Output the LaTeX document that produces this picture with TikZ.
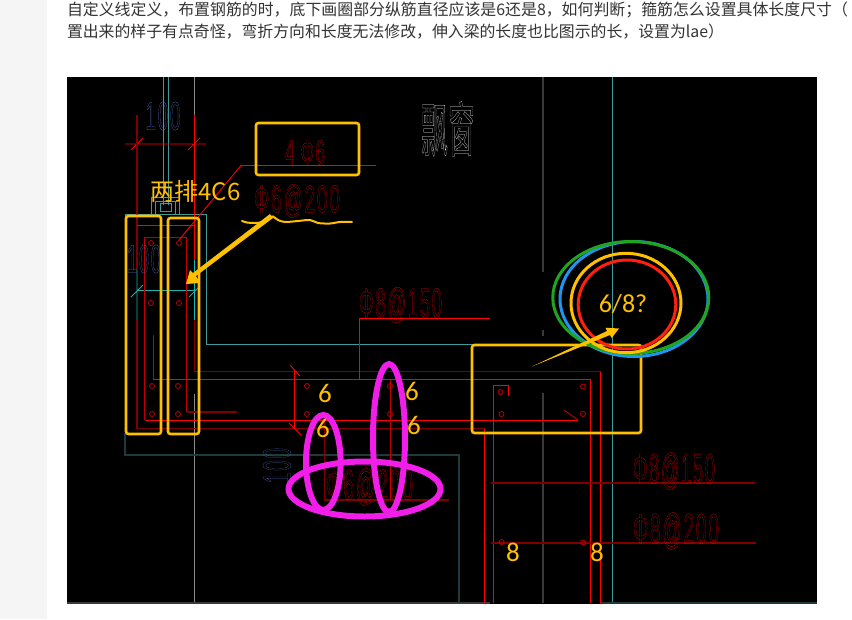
\documentclass[tikz,border=0pt]{standalone}
\usepackage{fontspec}
\usepackage{graphicx}
\setmainfont{Carlito}
\newfontfamily\cjk{Noto Sans CJK SC}
\newfontfamily\cadfont[LetterSpace=9]{Liberation Sans}
\definecolor{anno}{HTML}{FFC000}
\definecolor{mag}{HTML}{F01EE8}
\definecolor{brt}{HTML}{FF0000}
\definecolor{mid}{HTML}{C00000}
\definecolor{drk}{HTML}{800000}
\definecolor{teal1}{HTML}{3F9A9A}
\definecolor{teal2}{HTML}{1F3A3A}
\definecolor{cyan1}{HTML}{15B5B5}
\definecolor{gry}{HTML}{8A8A8A}
\definecolor{gry2}{HTML}{3A3A3A}
\definecolor{bodytext}{HTML}{333333}
\definecolor{ringblue}{HTML}{1E96F0}
\definecolor{ringgreen}{HTML}{1FA51F}
\definecolor{ringred}{HTML}{FF2010}
% outlined CAD lettering: width, height, stroke colour (r g b), text
\newcommand{\cadtxt}[4]{\resizebox{#1pt}{#2pt}{\fontsize{30}{30}\selectfont\cadfont\special{pdf:code 1 Tr 0.2 w #3 RG}#4\special{pdf:code 0 Tr}}}
\newcommand{\cadcjk}[4]{\resizebox{#1pt}{#2pt}{\fontsize{50}{50}\selectfont\cjk\special{pdf:code 1 Tr 0.2 w #3 RG}#4\special{pdf:code 0 Tr}}}
\tikzset{
  x=1pt,y=-1pt,
  lab/.style={inner sep=0pt,outer sep=0pt},
  num/.style={lab,text=anno,font=\fontsize{27}{27}\selectfont},
  ybox/.style={draw=anno,line width=2.6pt,rounded corners=2.5pt},
  rb/.style={brt,line width=0.9pt},
  rm/.style={mid,line width=0.9pt},
  rd/.style={drk,line width=1.1pt},
  tl/.style={teal1,line width=0.9pt},
  dk/.style={teal2,line width=1.1pt},
  dot/.style={draw=mid,line width=0.8pt,circle,minimum size=5pt,inner sep=0pt},
  hoop/.style={draw=mag,line width=6pt},
  ring/.style={line width=3pt},
  para/.style={lab,anchor=west,text=bodytext,font=\cjk\fontsize{16}{16}\selectfont},
}
\begin{document}
\begin{tikzpicture}
\useasboundingbox (0,0) rectangle (852,619);
\fill[white] (0,0) rectangle (852,619);
\fill[black!4] (0,0) rectangle (47,619);
\node[para] (line1) at (67,10) {\resizebox{781pt}{!}{自定义线定义，布置钢筋的时，底下画圈部分纵筋直径应该是6还是8，如何判断；箍筋怎么设置具体长度尺寸（}};
\node[para] (line2) at (67,32) {\resizebox{657pt}{!}{置出来的样子有点奇怪，弯折方向和长度无法修改，伸入梁的长度也比图示的长，设置为lae）}};
\fill[black] (67,77) rectangle (817,604);

% grey and teal axes
\draw[gry,line width=.8pt] (194.5,77) -- (194.5,115);
\draw[gry,line width=.8pt] (194.5,394) -- (194.5,603);
\draw[teal1,line width=.8pt] (163,77) -- (163,205) (168,77) -- (168,205);
\draw[gry2,line width=1.2pt] (543,77) -- (543,272) (543,330) -- (543,336) (543,393) -- (543,603);
\draw[tl] (612.5,77) -- (612.5,603);
\draw[gry2,line width=1.2pt] (67,603) -- (490,603);
\draw[teal2,line width=1.2pt] (600,603) -- (817,603);

% teal outlines, left column
\draw[tl] (125,290) -- (125,214) -- (206.5,214) -- (206.5,344) -- (641,344);
\draw[tl] (151,214) -- (151,197) -- (179,197) -- (179,214);
\draw[tl] (155,214) -- (155,201) -- (175,201) -- (175,214);
\draw[tl] (160,211) -- (160,203) -- (171,203) -- (171,211) -- cycle;
\draw[dk] (125,433) -- (125,455) -- (459,455) -- (459,603);
\draw[cyan1,line width=.8pt] (137,290.5) -- (195,290.5) (131,297) -- (143,285) (189,297) -- (199,287) (194.5,260) -- (194.5,320) (137,270) -- (137,320);

% red, left column and beam
\draw[rb] (125,144) -- (206,144) (131,150) -- (143,138) (188,150) -- (200,138);
\draw[rb] (194.5,115) -- (194.5,260);
\draw[rd] (137,115) -- (137,270) (137,320) -- (137,428.5) -- (484.5,428.5);
\draw[rb] (137,225) -- (194.5,225);
\draw[rm] (186.5,237) -- (144.5,237) -- (144.5,420);
\draw[brt,line width=1pt] (144.5,420) -- (578,420);
\draw[rm] (186.5,237) -- (186.5,412);
\draw[rd] (186.5,412) -- (237,412);
\draw[rm] (153,335) -- (153,379);
\draw[brt,line width=1pt] (153,379.5) -- (590.5,379.5) -- (590.5,603);
\draw[rd] (194.5,320) -- (194.5,371.5) -- (600.5,371.5);
\draw[brt,line width=1pt] (600.5,371.5) -- (600.5,603);
\draw[rb] (294.5,370) -- (294.5,428) (290,365) -- (300,376) (289,423) -- (301,435);
\draw[rb] (359.5,379) -- (359.5,318) -- (490,318);
\draw[rd] (324.5,420) -- (324.5,500) -- (449,500);
\draw[rm] (390,380) -- (390,500);
% leader of 4 phi 6
\draw[rb] (179,240) -- (241,165.5) -- (376,165.5);

% right column
\draw[rb] (508.7,395.5) -- (508.7,385) -- (493,385) -- (493,603);
\draw[rb] (484.5,428.5) -- (484.5,603);
\draw[rm] (564,410) -- (578,420);
\draw[rd] (491,483) -- (755,483) (491,543) -- (756,543);

% rebar dots
\foreach \n/\px/\py in {a/151/243,b/179/243,c/151/303,d/179/303,e/152/386,f/178/386,g/152/414,h/178/414,i/307/386,j/307/414,k/390/386,l/390/414,m/500.5/392,n/583/386.5,o/501.5/414,p/583/414,q/501.7/542,r/583/542.5}
  \node[dot] (dot\n) at (\px,\py) {};

% CAD lettering
\node[lab] (dimA) at (163,116) {\cadtxt{35}{28}{0.35 0.45 0.8}{100}};
\node[lab] (dimB) at (144,259) {\cadtxt{34}{28}{0.35 0.45 0.8}{100}};
\node[lab,rotate=90] (dimC) at (277,465.5) {\cadtxt{35}{28}{0.3 0.38 0.65}{100}};
\node[lab] (t46) at (305,152.5) {\cadtxt{40}{25}{1 0 0}{4 Φ6}};
\node[lab] (t6a) at (297,201) {\cadtxt{86}{28}{0.9 0 0}{Φ6@200}};
\node[lab] (t6b) at (369.5,487) {\cadtxt{87}{31}{0.9 0 0}{Φ6@200}};
\node[lab] (t8a) at (400.5,305) {\cadtxt{83}{30}{0.9 0 0}{Φ8@150}};
\node[lab] (t8b) at (674,471) {\cadtxt{82}{31}{0.9 0 0}{Φ8@150}};
\node[lab] (t8c) at (676,531) {\cadtxt{86}{31}{0.9 0 0}{Φ8@200}};
\node[lab] (title) at (448,129) {\cadcjk{54}{50}{0.95 0.95 0.95}{飘窗}};

% annotations
\draw[ybox] (256,123) rectangle (359,175);
\draw[ybox] (126,216) rectangle (161,434);
\draw[ybox] (168,218) rectangle (199,434);
\draw[ybox] (472,345) rectangle (641,433);
\node[lab,text=anno,font=\cjk\fontsize{24}{24}\selectfont] (two) at (195.5,191) {两排4C6};
\draw[anno,line width=2pt,line cap=round] plot[smooth] coordinates {(242,221) (247,222.5) (255,223) (262,222) (270,217) (273,216.5) (278,220) (285,222) (298,221) (310,220) (318,223) (330,223.5) (340,222) (352,222)};
\fill[anno] (270,214) -- (273,218) -- (196,276) -- (200,283) -- (186,284) -- (190,270) -- (193,273) -- cycle;

\draw[ring,draw=ringblue] (634,299) ellipse [x radius=74,y radius=57.5];
\draw[ring,draw=ringgreen] (630.8,297.5) ellipse [x radius=78,y radius=56];
\draw[ring,draw=anno] (626,303) ellipse [x radius=55,y radius=49.7];
\draw[ring,draw=ringred] (627,304.5) ellipse [x radius=48.8,y radius=44.5];
\node[num,font=\fontsize{26}{26}\selectfont] (q) at (623,304) {6/8?};
\fill[anno] (532,366.5) -- (607,331) -- (605.5,327.7) -- (619,328.5) -- (611.7,338) -- (610,335) -- cycle;

\draw[hoop] (364.5,489) ellipse [x radius=76,y radius=27.5];
\draw[hoop] (323.3,462.5) ellipse [x radius=17.3,y radius=47.5];
\draw[hoop] (389,438) ellipse [x radius=16,y radius=74];
\node[num] (n1) at (325,393) {6};
\node[num] (n2) at (323,428) {6};
\node[num] (n3) at (412,391) {6};
\node[num] (n4) at (414,425) {6};
\node[num] (n5) at (513,552) {8};
\node[num] (n6) at (597,552) {8};
\end{tikzpicture}
\end{document}
